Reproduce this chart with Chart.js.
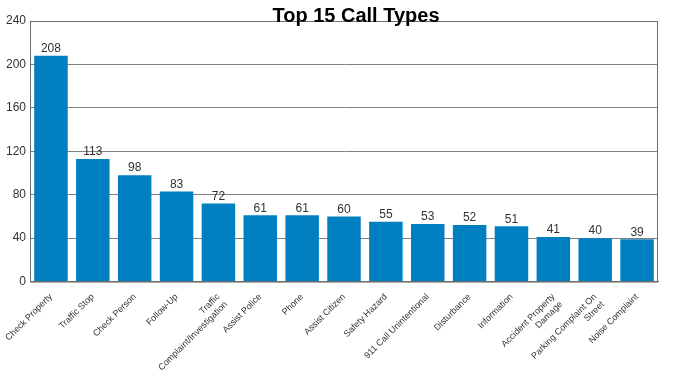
<!DOCTYPE html>
<html>
<head>
<meta charset="utf-8">
<script src="https://cdn.jsdelivr.net/npm/chart.js@4/dist/chart.umd.min.js"></script>
<style>
  html, body { margin: 0; padding: 0; background: #fff; }
  #wrap { width: 676px; height: 381px; }
</style>
</head>
<body>
<div id="wrap"><canvas id="myChart"></canvas></div>
<script>
  const categories = [
    'Check Property',
    'Traffic Stop',
    'Check Person',
    'Follow-Up',
    ['Traffic', 'Complaint/Investigation'],
    'Assist Police',
    'Phone',
    'Assist Citizen',
    'Safety Hazard',
    '911 Call Unintentional',
    'Disturbance',
    'Information',
    ['Accident Property', 'Damage'],
    ['Parking Complaint On', 'Street'],
    'Noise Complaint'
  ]
  const counts = [208, 113, 98, 83, 72, 61, 61, 60, 55, 53, 52, 51, 41, 40, 39]
  const yTicks = [0, 40, 80, 120, 160, 200, 240]

  const font = 'Arial, "Liberation Sans", sans-serif'

  const extras = {
    id: 'extras',
    afterDraw(chart) {
      const { ctx, chartArea } = chart
      ctx.save()
      // frame
      ctx.strokeStyle = '#6e6e6e'
      ctx.lineWidth = 1
      ctx.strokeRect(chartArea.left + 0.5, chartArea.top + 0.5,
        chartArea.right - chartArea.left - 1, chartArea.bottom - chartArea.top)
      // value labels
      ctx.fillStyle = '#333'
      ctx.font = '12px ' + font
      ctx.textAlign = 'center'
      ctx.textBaseline = 'bottom'
      chart.getDatasetMeta(0).data.forEach((bar, i) => {
        ctx.fillText(counts[i], bar.x, bar.y - 1)
      })
      // title
      ctx.fillStyle = '#000'
      ctx.font = 'bold 20px ' + font
      ctx.textBaseline = 'alphabetic'
      ctx.fillText('Top 15 Call Types', 356, 22)
      ctx.restore()
    }
  }

  const ctx = document.getElementById('myChart')
  const myChart = new Chart(ctx, {
    type: 'bar',
    data: {
      labels: categories,
      datasets: [{
        data: counts,
        backgroundColor: '#0080c0',
        barPercentage: 0.8,
        categoryPercentage: 1
      }]
    },
    options: {
      responsive: true,
      maintainAspectRatio: false,
      animation: false,
      layout: { padding: { top: 21, right: 18, left: 2, bottom: 6 } },
      plugins: {
        legend: { display: false },
        tooltip: { enabled: false }
      },
      scales: {
        x: {
          grid: { display: false },
          border: { color: '#6e6e6e' },
          ticks: {
            color: '#333',
            font: { family: font, size: 9 },
            minRotation: 45,
            maxRotation: 45,
            padding: 2
          }
        },
        y: {
          min: 0,
          max: 240,
          afterBuildTicks(axis) {
            axis.ticks = yTicks.map(v => ({ value: v }))
          },
          grid: { color: '#808080', drawTicks: false },
          border: { color: '#6e6e6e' },
          ticks: {
            color: '#333',
            font: { family: font, size: 12 },
            padding: 4
          }
        }
      }
    },
    plugins: [extras]
  })
</script>
</body>
</html>
